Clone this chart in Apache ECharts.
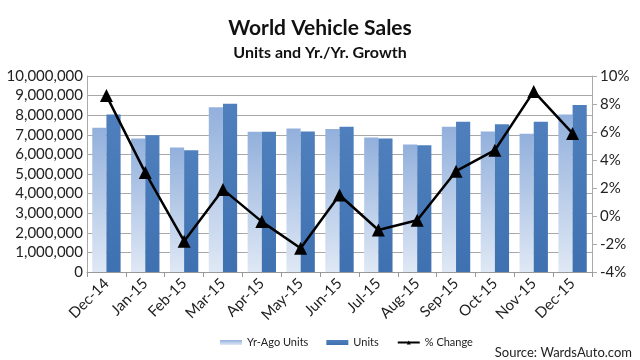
<!DOCTYPE html>
<html><head><meta charset="utf-8">
<script src="https://cdn.jsdelivr.net/npm/echarts@6/dist/echarts.min.js"></script>
<style>html,body{margin:0;padding:0;background:#fff}#c{width:640px;height:360px}</style>
</head><body><div id="c"></div>
<script>
const categories = ['Dec-14','Jan-15','Feb-15','Mar-15','Apr-15','May-15','Jun-15','Jul-15','Aug-15','Sep-15','Oct-15','Nov-15','Dec-15'];
const yrAgoUnits = [7360000,6810000,6350000,8410000,7150000,7320000,7300000,6860000,6500000,7410000,7170000,7050000,8040000];
const units = [8040000,6980000,6210000,8580000,7150000,7170000,7410000,6810000,6470000,7660000,7540000,7660000,8520000];
const pctChange = [8.6,3.1,-1.8,1.9,-0.4,-2.3,1.5,-1.0,-0.3,3.2,4.7,8.9,5.9];
const FONT = 'Lato';
const chart = echarts.init(document.getElementById('c'), null, {renderer:'canvas'});
chart.setOption({
  animation:false,
  textStyle:{fontFamily:FONT},
  title:[
    {text:'World Vehicle Sales', left:'center', top:13, textStyle:{fontFamily:FONT,fontSize:21,fontWeight:'bold',color:'#111'}},
    {text:'Units and Yr./Yr. Growth', left:'center', top:40, textStyle:{fontFamily:FONT,fontSize:16,fontWeight:'bold',color:'#111'}}
  ],
  grid:{left:87,right:48,top:76,bottom:88},
  legend:{
    bottom:7, left:215, itemGap:18, itemWidth:22, itemHeight:5,
    textStyle:{fontFamily:FONT,fontSize:11,color:'#222'},
    data:[{name:'Yr-Ago Units',icon:'rect'},{name:'Units',icon:'rect'},{name:'% Change'}]
  },
  graphic:[{type:'text',right:8,bottom:1,style:{text:'Source: WardsAuto.com',font:'13px Lato',fill:'#222'}}],
  xAxis:{
    type:'category', data:categories, boundaryGap:true,
    axisLine:{lineStyle:{color:'#999'}},
    axisTick:{show:true,length:5,lineStyle:{color:'#999'}},
    axisLabel:{rotate:45,fontSize:15,color:'#222',fontFamily:FONT,margin:9}
  },
  yAxis:[
    {type:'value',min:0,max:10000000,interval:1000000,
     axisLine:{show:true,lineStyle:{color:'#aaa'}},
     splitLine:{lineStyle:{color:'#a8a8a8'}},
     axisLabel:{fontSize:15,color:'#222',fontFamily:FONT,margin:4,
       formatter:v=>v.toLocaleString('en-US')}},
    {type:'value',min:-4,max:10,interval:2,position:'right',
     axisLine:{show:true,lineStyle:{color:'#aaa'}},
     axisTick:{show:true,lineStyle:{color:'#aaa'}},
     splitLine:{show:false},
     axisLabel:{fontSize:15,color:'#222',fontFamily:FONT,margin:8,formatter:v=>v+'%'}}
  ],
  series:[
    {name:'Yr-Ago Units',type:'bar',data:yrAgoUnits,barGap:'0%',barCategoryGap:'27%',
     itemStyle:{color:new echarts.graphic.LinearGradient(0,0,0,1,[{offset:0,color:'#92b0dc'},{offset:1,color:'#dfe8f5'}])}},
    {name:'Units',type:'bar',data:units,barGap:'0%',barCategoryGap:'27%',
     itemStyle:{color:new echarts.graphic.LinearGradient(0,0,0,1,[{offset:0,color:'#4f80bd'},{offset:1,color:'#3f70b0'}])}},
    {name:'% Change',type:'line',yAxisIndex:1,data:pctChange,
     symbol:'triangle',symbolSize:13,
     lineStyle:{color:'#000',width:2.5},itemStyle:{color:'#000'}}
  ]
});
</script></body></html>
